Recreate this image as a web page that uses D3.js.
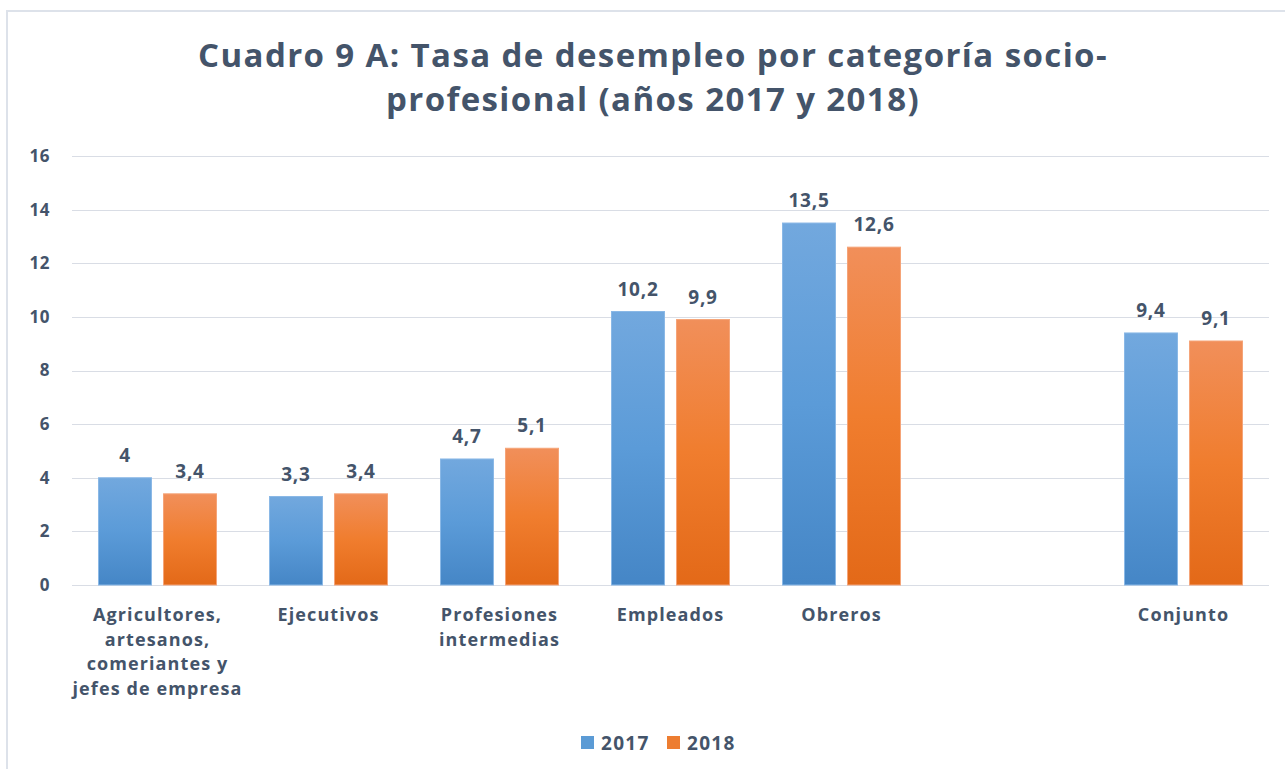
<!DOCTYPE html>
<html>
<head>
<meta charset="utf-8">
<script src="https://cdn.jsdelivr.net/npm/d3@7"></script>
<style>
  body { margin: 0; background: #fff; }
  svg { display: block; font-family: "Open Sans", sans-serif; }
</style>
</head>
<body>
<div id="chart"></div>
<script>
// datos
const categories = [
  "Agricultores,\nartesanos,\ncomeriantes y\njefes de empresa",
  "Ejecutivos",
  "Profesiones\nintermedias",
  "Empleados",
  "Obreros",
  "",
  "Conjunto"
];
const series = ["2017", "2018"];
const values2017 = [4, 3.3, 4.7, 10.2, 13.5, null, 9.4];
const values2018 = [3.4, 3.4, 5.1, 9.9, 12.6, null, 9.1];
const yTicks = [0, 2, 4, 6, 8, 10, 12, 14, 16];

const W = 1285, H = 769;
const plot = { left: 72, right: 1269, top: 156, bottom: 585 };
const textColor = "#44546a";

const svg = d3.select("#chart")
    .append("svg")
    .attr("width", W)
    .attr("height", H);

// gradientes de las barras
const defs = svg.append("defs");
const grads = [
  { id: "g2017", top: "#72a8de", mid: "#5b9bd8", bottom: "#4586c6" },
  { id: "g2018", top: "#f18f5a", mid: "#f07d2e", bottom: "#e36918" }
];
grads.forEach(g => {
  const lg = defs.append("linearGradient")
      .attr("id", g.id)
      .attr("x1", 0).attr("y1", 0).attr("x2", 0).attr("y2", 1);
  lg.append("stop").attr("offset", "0%").attr("stop-color", g.top);
  lg.append("stop").attr("offset", "50%").attr("stop-color", g.mid);
  lg.append("stop").attr("offset", "100%").attr("stop-color", g.bottom);
});
const fills = { "2017": "url(#g2017)", "2018": "url(#g2018)" };
const swatch = { "2017": "#5b9bd5", "2018": "#ed7d31" };
const strokes = { "2017": "#8ab8e6", "2018": "#f5a478" };

// marco
svg.append("rect")
    .attr("x", 7).attr("y", 11)
    .attr("width", W + 10).attr("height", H + 10)
    .attr("fill", "none")
    .attr("stroke", "#dde2ea")
    .attr("stroke-width", 2);

// título
const title = svg.append("text")
    .attr("text-anchor", "middle")
    .attr("fill", textColor)
    .style("font-size", "33px")
    .style("font-weight", "bold")
    .style("letter-spacing", "1.4px");
title.append("tspan").attr("x", 653).attr("y", 67)
    .text("Cuadro 9 A: Tasa de desempleo por categoría socio-");
title.append("tspan").attr("x", 653).attr("y", 111)
    .text("profesional (años 2017 y 2018)");

const x = d3.scaleBand()
    .domain(d3.range(categories.length))
    .range([plot.left, plot.right])
    .padding(0);

const x1 = d3.scaleBand()
    .domain(series)
    .range([26, x.bandwidth() - 26])
    .paddingInner(0.17);

const y = d3.scaleLinear()
    .domain([0, 16])
    .range([plot.bottom, plot.top]);

// líneas de cuadrícula
svg.append("g")
    .selectAll("line")
    .data(yTicks)
    .enter()
    .append("line")
    .attr("x1", plot.left)
    .attr("x2", plot.right)
    .attr("y1", d => Math.round(y(d)) + 0.5)
    .attr("y2", d => Math.round(y(d)) + 0.5)
    .attr("stroke", "#d9dde5")
    .attr("stroke-width", 1);

// eje Y
svg.append("g")
    .attr("transform", `translate(${plot.left},0)`)
    .call(d3.axisLeft(y).tickValues(yTicks).tickSize(0).tickPadding(22))
    .call(g => g.select(".domain").remove())
    .selectAll("text")
    .attr("fill", textColor)
    .style("font-size", "17px")
    .style("font-weight", "bold")
    .style("letter-spacing", "0.5px")
    .style("font-family", "'Open Sans', sans-serif");

// barras
const rows = categories.map((c, i) => ({
  i: i,
  vals: [
    { key: "2017", value: values2017[i] },
    { key: "2018", value: values2018[i] }
  ].filter(d => d.value != null)
}));

const groups = svg.append("g")
    .selectAll("g")
    .data(rows)
    .enter()
    .append("g")
    .attr("transform", d => `translate(${x(d.i)},0)`);

groups.selectAll("rect")
    .data(d => d.vals)
    .enter()
    .append("rect")
    .attr("x", d => x1(d.key) + 0.5)
    .attr("y", d => y(d.value))
    .attr("width", x1.bandwidth() - 1)
    .attr("height", d => plot.bottom - y(d.value))
    .attr("fill", d => fills[d.key])
    .attr("stroke", d => strokes[d.key])
    .attr("stroke-width", 1);

// etiquetas de datos
groups.selectAll("text")
    .data(d => d.vals)
    .enter()
    .append("text")
    .attr("x", d => x1(d.key) + x1.bandwidth() / 2)
    .attr("y", d => y(d.value) - 16)
    .attr("text-anchor", "middle")
    .attr("fill", textColor)
    .style("font-size", "19px")
    .style("font-weight", "bold")
    .style("letter-spacing", "0.8px")
    .text(d => String(d.value).replace(".", ","));

// etiquetas de categorías
const catLabels = svg.append("g")
    .selectAll("text")
    .data(categories)
    .enter()
    .append("text")
    .attr("text-anchor", "middle")
    .attr("fill", textColor)
    .style("font-size", "18px")
    .style("font-weight", "bold")
    .style("letter-spacing", "1.1px");

catLabels.each(function(d, i) {
  const t = d3.select(this);
  d.split("\n").forEach((line, k) => {
    t.append("tspan")
        .attr("x", x(i) + x.bandwidth() / 2)
        .attr("y", 621 + k * 24.5)
        .text(line);
  });
});

// leyenda
const legend = svg.append("g");
const legendX = [581, 667];
series.forEach((s, k) => {
  legend.append("rect")
      .attr("x", legendX[k])
      .attr("y", 736)
      .attr("width", 13)
      .attr("height", 13)
      .attr("fill", swatch[s]);
  legend.append("text")
      .attr("x", legendX[k] + 20)
      .attr("y", 750)
      .attr("fill", textColor)
      .style("font-size", "19px")
      .style("font-weight", "bold")
      .style("letter-spacing", "1.3px")
      .text(s);
});
</script>
</body>
</html>
